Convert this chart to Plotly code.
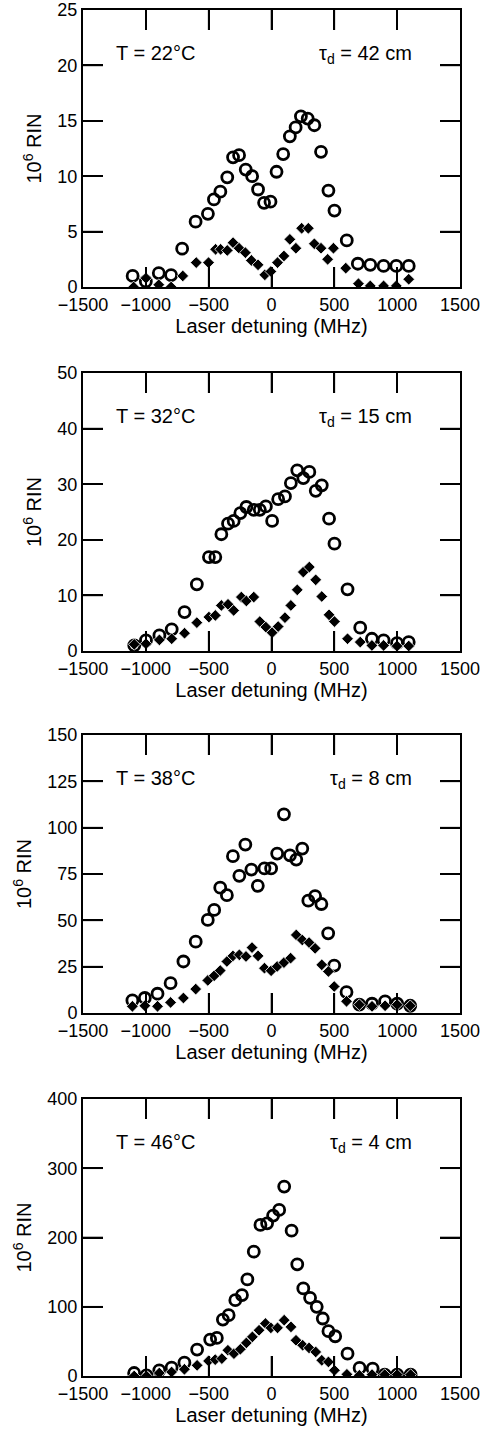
import plotly.graph_objects as go

# ---------------- data ----------------
temps = ["T = 22°C", "T = 32°C", "T = 38°C", "T = 46°C"]
taus = ["τ<sub>d</sub> = 42 cm", "τ<sub>d</sub> = 15 cm", "τ<sub>d</sub> = 8 cm", "τ<sub>d</sub> = 4 cm"]
y_max = [25, 50, 150, 400]
y_dtick = [5, 10, 25, 100]
x_ticks = [-1500, -1000, -500, 0, 500, 1000, 1500]

# Panel 1 (22 C)
c1_x = [-1105, -1000, -897, -799, -711, -604, -506, -458, -407, -352, -306, -258, -205, -154, -107, -59, -8,
        40, 93, 146, 192, 234, 288, 341, 394, 453, 501, 599, 687, 786, 892, 993, 1092]
c1_y = [1.0, 0.5, 1.26, 1.08, 3.46, 5.9, 6.6, 7.9, 8.6, 9.9, 11.7, 11.9, 10.6, 10.0, 8.8, 7.6, 7.7,
        10.4, 12.0, 13.6, 14.4, 15.4, 15.2, 14.6, 12.2, 8.7, 6.9, 4.2, 2.1, 2.0, 1.9, 1.9, 1.9]
d1_x = [-1097, -999, -897, -799, -706, -599, -501, -445, -405, -352, -306, -258, -208, -160, -107, -53, -5,
        48, 99, 146, 194, 240, 293, 341, 394, 447, 493, 591, 692, 786, 892, 993, 1092]
d1_y = [0.0, 0.8, 0.2, 0.0, 1.0, 2.2, 2.2, 3.4, 3.4, 3.3, 4.0, 3.5, 3.1, 2.4, 2.0, 1.1, 1.4,
        2.2, 2.8, 4.3, 3.5, 5.3, 5.3, 3.9, 3.5, 2.5, 3.5, 1.7, 0.3, 0.1, 0.1, 0.1, 0.7]

# Panel 2 (32 C)
c2_x = [-1092, -999, -892, -794, -692, -594, -498, -447, -399, -346, -301, -248, -200, -141, -93, -45, 5,
        53, 107, 154, 205, 253, 301, 352, 400, 458, 501, 605, 706, 799, 892, 999, 1092]
c2_y = [1.0, 1.9, 2.8, 3.9, 7.0, 12.0, 16.9, 16.9, 21.0, 22.9, 23.4, 24.8, 25.9, 25.4, 25.4, 26.0, 23.4,
        27.3, 27.8, 30.2, 32.5, 31.1, 32.2, 28.8, 29.8, 23.8, 19.3, 11.1, 4.2, 2.2, 1.9, 1.4, 1.6]
d2_x = [-1092, -999, -892, -794, -692, -594, -498, -447, -399, -346, -301, -240, -200, -141, -93, -45, 5,
        53, 107, 154, 205, 253, 301, 352, 400, 458, 501, 605, 706, 799, 892, 999, 1092]
d2_y = [1.2, 1.3, 2.0, 2.2, 3.2, 5.1, 6.1, 6.4, 8.2, 8.4, 7.3, 9.7, 9.0, 9.7, 5.3, 4.3, 3.3,
        4.4, 6.0, 8.2, 11.0, 14.2, 15.1, 12.8, 9.8, 6.5, 5.3, 2.2, 1.6, 1.0, 1.0, 0.9, 0.9]

# Panel 3 (38 C)
c3_x = [-1107, -1008, -907, -803, -701, -603, -507, -456, -408, -355, -307, -256, -208, -160, -109, -56, -3,
        45, 99, 147, 197, 245, 293, 347, 397, 451, 499, 597, 699, 800, 904, 1000, 1104]
c3_y = [6.8, 8.1, 10.4, 16.1, 27.8, 38.5, 50.2, 55.6, 67.6, 63.6, 84.6, 74.0, 90.9, 77.4, 68.6, 78.0, 78.0,
        86.0, 107.2, 85.1, 82.8, 88.7, 60.6, 63.1, 58.8, 43.0, 25.6, 11.3, 4.5, 5.0, 6.3, 5.0, 3.9]
d3_x = [-1107, -1008, -907, -803, -701, -603, -507, -456, -408, -355, -307, -256, -203, -155, -107, -56, -3,
        45, 99, 152, 197, 245, 299, 347, 400, 453, 499, 597, 699, 800, 904, 1000, 1104]
d3_y = [3.6, 3.9, 3.6, 5.7, 8.1, 12.9, 17.6, 20.1, 22.9, 27.8, 30.8, 31.4, 30.5, 35.3, 30.8, 24.2, 22.8,
        25.1, 27.2, 29.6, 42.1, 39.4, 38.0, 34.9, 26.0, 22.4, 14.3, 6.3, 4.5, 3.6, 3.9, 4.5, 3.9]

# Panel 4 (46 C)
c4_x = [-1093, -995, -893, -795, -693, -592, -488, -435, -387, -341, -288, -235, -192, -141, -88, -35, 13,
        61, 101, 160, 205, 253, 307, 360, 408, 453, 507, 605, 701, 805, 901, 1000, 1107]
c4_y = [4.3, 1.0, 8.2, 12.1, 19.3, 38.1, 52.6, 55.0, 81.5, 87.8, 109.5, 116.8, 139.4, 179.5, 218.1, 220.5, 231.6,
        239.8, 273.6, 209.9, 161.2, 126.4, 112.9, 99.9, 83.0, 64.7, 57.4, 32.3, 11.6, 10.6, 2.0, 2.0, 2.0]
d4_x = [-1093, -995, -893, -795, -693, -592, -501, -448, -395, -347, -299, -248, -200, -152, -99, -48, -5,
        48, 101, 155, 195, 248, 299, 352, 400, 453, 501, 600, 699, 800, 901, 1000, 1107]
d4_y = [0.0, 0.0, 4.3, 5.8, 9.7, 15.4, 21.7, 23.6, 25.1, 37.2, 32.3, 38.6, 47.8, 56.5, 66.1, 75.8, 69.5,
        69.5, 80.6, 70.9, 51.6, 44.4, 40.5, 34.7, 22.7, 20.3, 8.2, 2.4, 1.0, 2.0, 2.0, 2.0, 2.0]

circles = [(c1_x, c1_y), (c2_x, c2_y), (c3_x, c3_y), (c4_x, c4_y)]
diamonds = [(d1_x, d1_y), (d2_x, d2_y), (d3_x, d3_y), (d4_x, d4_y)]

# ---------------- layout geometry ----------------
W, H = 494, 1432
x_left, x_right = 83, 460
panels_px = [(10, 287), (373, 651), (735, 1013), (1099, 1376)]
TICKLEN = 20  # px
X_RANGE = [x_ticks[0], x_ticks[-1]]

FONT = "Liberation Sans, Arial, Helvetica, sans-serif"

fig = go.Figure()
layout = dict(
    width=W, height=H,
    margin=dict(l=0, r=0, t=0, b=0, autoexpand=False),
    paper_bgcolor="white", plot_bgcolor="white",
    showlegend=False,
    font=dict(family=FONT, size=18, color="black"),
)
annotations = []

for i in range(4):
    n = i + 1
    xa = "x" if n == 1 else f"x{n}"
    ya = "y" if n == 1 else f"y{n}"
    top, bot = panels_px[i]

    # inward tick marks on all four sides, derived from tick values and axis ranges
    len_y = TICKLEN / (bot - top) * y_max[i]
    len_x = TICKLEN / (x_right - x_left) * (X_RANGE[1] - X_RANGE[0])
    tx, ty = [], []
    for v in x_ticks[1:-1]:
        tx += [v, v, None, v, v, None]
        ty += [0, len_y, None, y_max[i], y_max[i] - len_y, None]
    yv = y_dtick[i]
    while yv < y_max[i]:
        tx += [X_RANGE[0], X_RANGE[0] + len_x, None, X_RANGE[1], X_RANGE[1] - len_x, None]
        ty += [yv, yv, None, yv, yv, None]
        yv += y_dtick[i]
    fig.add_trace(go.Scatter(
        x=tx, y=ty, mode="lines", xaxis=xa, yaxis=ya, hoverinfo="skip",
        line=dict(color="black", width=1.6), connectgaps=False,
    ))

    cx, cy = circles[i]
    dx, dy = diamonds[i]
    fig.add_trace(go.Scatter(
        x=cx, y=cy, mode="markers", xaxis=xa, yaxis=ya,
        marker=dict(symbol="circle-open", size=11, color="black", line=dict(width=2.8, color="black")),
    ))
    fig.add_trace(go.Scatter(
        x=dx, y=dy, mode="markers", xaxis=xa, yaxis=ya,
        marker=dict(symbol="diamond", size=9, color="black", line=dict(width=0.8, color="white")),
    ))
    ydom = [1 - bot / H, 1 - top / H]
    xdom = [x_left / W, x_right / W]
    layout[f"xaxis{'' if n == 1 else n}"] = dict(
        domain=xdom, anchor=ya, range=X_RANGE,
        tickmode="array", tickvals=x_ticks, ticks="inside", ticklen=TICKLEN, tickwidth=1.6, tickcolor="black",
        showline=True, linewidth=2, linecolor="black", mirror="ticks",
        showgrid=False, zeroline=False,
        tickfont=dict(size=18),
        title=dict(text="Laser detuning (MHz)", font=dict(size=20), standoff=4),
    )
    layout[f"yaxis{'' if n == 1 else n}"] = dict(
        domain=ydom, anchor=xa, range=[0, y_max[i]],
        dtick=y_dtick[i], ticks="inside", ticklen=TICKLEN, tickwidth=1.6, tickcolor="black",
        showline=True, linewidth=2, linecolor="black", mirror="ticks",
        showgrid=False, zeroline=False,
        tickfont=dict(size=18),
        title=dict(text="10<sup>6</sup> RIN", font=dict(size=20), standoff=10),
    )
    annotations.append(dict(
        text=temps[i], xref=f"{xa} domain", yref=f"{ya} domain",
        x=(114 - x_left) / (x_right - x_left), y=1 - 30 / (bot - top),
        xanchor="left", yanchor="top", showarrow=False, font=dict(size=20),
    ))
    annotations.append(dict(
        text=taus[i], xref=f"{xa} domain", yref=f"{ya} domain",
        x=(414 - x_left) / (x_right - x_left), y=1 - 30 / (bot - top),
        xanchor="right", yanchor="top", showarrow=False, font=dict(size=20),
    ))

layout["annotations"] = annotations
fig.update_layout(**layout)
fig.write_html("out.html", post_script="document.body.style.margin='0';",
               config={"displayModeBar": False})
